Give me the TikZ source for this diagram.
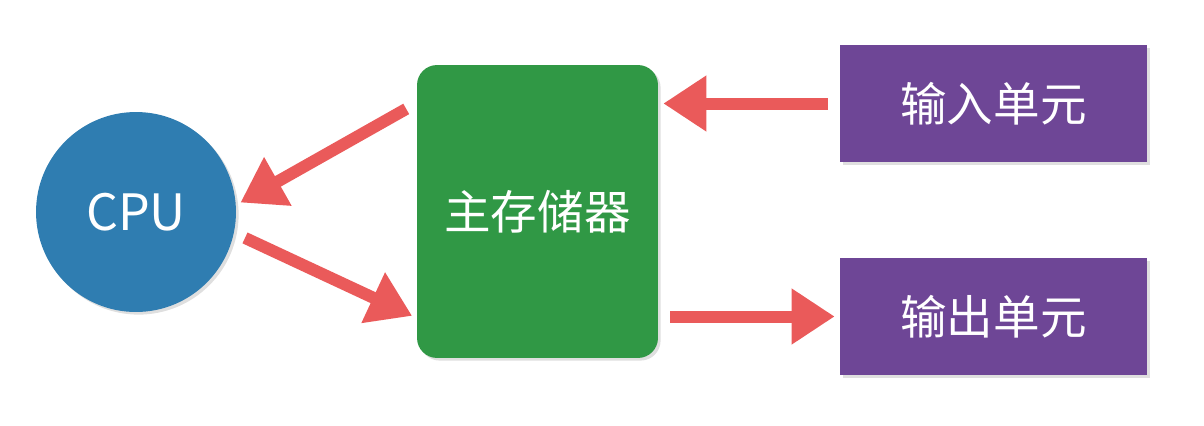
\documentclass[tikz,border=0pt]{standalone}
\usepackage{fontspec}
\newfontfamily\cjk{Noto Sans CJK SC}
\usepackage{tikz}
\usetikzlibrary{arrows.meta,shadows}
\definecolor{cpublue}{RGB}{47,125,177}
\definecolor{memgreen}{RGB}{48,152,69}
\definecolor{iopurple}{RGB}{110,70,150}
\definecolor{arrowred}{RGB}{234,90,90}
\tikzset{
  unit/.style={inner sep=0pt, text=white, font=\cjk\fontsize{26.5}{30}\selectfont,
    drop shadow={shadow xshift=1.5pt, shadow yshift=-1.5pt, opacity=.25}},
  cpunode/.style={unit, circle, fill=cpublue, minimum size=4cm,
    font=\cjk\fontsize{28.5}{32}\selectfont},
  memnode/.style={unit, rectangle, rounded corners=.4cm, fill=memgreen,
    minimum width=4.82cm, minimum height=5.86cm},
  ionode/.style={unit, rectangle, fill=iopurple, minimum width=6.14cm, minimum height=2.34cm},
  flow/.style={draw=arrowred, line width=.24cm, shorten <=.24cm, shorten >=.1cm,
    -{Triangle[length=.86cm, width=1.06cm]}, arrowred}
}
\begin{document}
\begin{tikzpicture}[x=.02cm, y=-.02cm]
  \useasboundingbox (0, 0) rectangle (1204, 426);
  \node [cpunode] (cpu) at (136, 212) {CPU};
  \node [memnode] (mem) at (537.5, 211.5) {主存储器};
  \node [ionode] (inp) at (993.5, 103.5) {输入单元};
  \node [ionode] (outp) at (993.5, 316.5) {输出单元};
  \draw [flow] ([yshift=2.17cm]mem.west) -- (cpu.4);
  \draw [flow] (cpu.-12) -- ([yshift=-2.13cm]mem.west);
  \draw [flow] (inp.west) -- (mem.east |- inp.west);
  \draw [flow] (mem.east |- outp.west) -- (outp.west);
\end{tikzpicture}
\end{document}
